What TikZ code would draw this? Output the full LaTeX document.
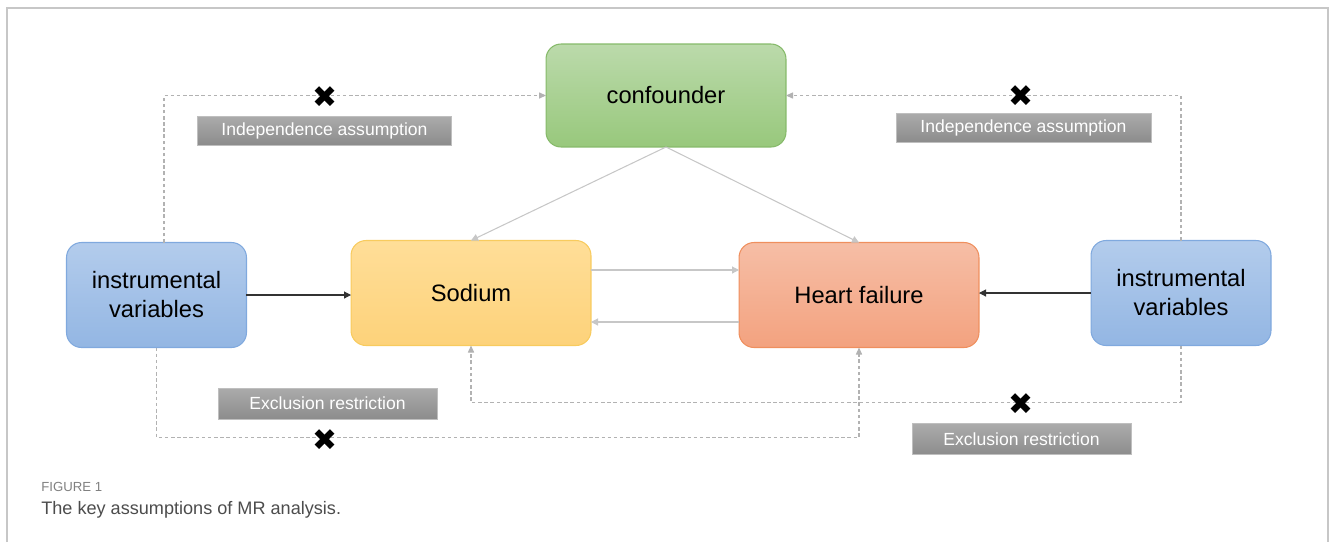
\documentclass[tikz,border=0pt]{standalone}
\usepackage{xcolor}
\usepackage{fontspec}
\setmainfont{Liberation Sans}
\newfontfamily\symfont{DejaVu Sans}
\usepackage{tikz}
\usetikzlibrary{arrows.meta, positioning}
\definecolor{confTop}{HTML}{BBDAAB}
\definecolor{confBot}{HTML}{98C87C}
\definecolor{confLine}{HTML}{86BA6A}
\definecolor{sodTop}{HTML}{FFDE98}
\definecolor{sodBot}{HTML}{FDD27A}
\definecolor{sodLine}{HTML}{F8CB5E}
\definecolor{hfTop}{HTML}{F6BEA6}
\definecolor{hfBot}{HTML}{F3A27F}
\definecolor{hfLine}{HTML}{EF8F5E}
\definecolor{ivTop}{HTML}{B3CCEC}
\definecolor{ivBot}{HTML}{93B6E3}
\definecolor{ivLine}{HTML}{80A9DE}
\definecolor{tagTop}{HTML}{ABABAB}
\definecolor{tagBot}{HTML}{8C8C8C}
\tikzset{
  box/.style={rectangle, draw, rounded corners=0.3cm, minimum height=2.1cm, minimum width=4.8cm, outer sep=0pt, align=center, line width=0.6pt, font=\fontsize{13.5}{16.5}\selectfont},
  ivbox/.style={box, minimum width=3.6cm, top color=ivTop, bottom color=ivBot, draw=ivLine},
  tag/.style={rectangle, draw=black!25, top color=tagTop, bottom color=tagBot, text=white, minimum height=0.58cm, font=\fontsize{10}{12}\selectfont, inner sep=0pt},
  cross/.style={inner sep=0pt, font=\symfont\fontsize{17}{17}\selectfont},
  arrow/.style={-{Triangle[length=4pt, width=4pt]}, line width=0.6pt, black!80},
  thinarrow/.style={-{Triangle[length=4pt, width=4pt]}, line width=0.6pt, black!22},
  dasharrow/.style={-{Triangle[length=4pt, width=3.5pt]}, line width=0.6pt, black!30, dash pattern=on 2pt off 1.5pt},
}

\begin{document}
\begin{tikzpicture}[x=0.02cm, y=-0.02cm]
    \useasboundingbox (0,0) rectangle (1331,542);
    \draw[black!22, line width=0.6pt] (7,542) -- (7,8) -- (1328,8) -- (1328,542);
    % main boxes
    \node[box, top color=confTop, bottom color=confBot, draw=confLine, minimum height=2.06cm] (conf) at (666,95.5) {confounder};
    \node[box, top color=sodTop, bottom color=sodBot, draw=sodLine] (sod) at (471,293) {Sodium};
    \node[box, top color=hfTop, bottom color=hfBot, draw=hfLine] (hf) at (859,295) {Heart failure};
    \node[ivbox] (ivL) at (156.5,295) {instrumental\\variables};
    \node[ivbox] (ivR) at (1181,293) {instrumental\\variables};
    % solid arrows
    \draw[arrow] (ivL.east) -- (ivL.east -| sod.west);
    \draw[arrow] (ivR.west) -- (ivR.west -| hf.east);
    \draw[thinarrow] (conf.south) -- (sod.north);
    \draw[thinarrow] (conf.south) -- (hf.north);
    \draw[thinarrow] ([yshift=0.46cm]sod.east) -- ([yshift=0.46cm]sod.east -| hf.west);
    \draw[thinarrow] ([yshift=-0.54cm]hf.west) -- ([yshift=-0.54cm]hf.west -| sod.east);
    % violated paths
    \draw[dasharrow] ([xshift=0.15cm]ivL.north) |- (conf.west);
    \draw[dasharrow] (ivR.north) |- (conf.east);
    \draw[dasharrow] (ivL.south) -- ++(0,90) -| (hf.south);
    \draw[dasharrow] (ivR.south) -- ++(0,57) -| (sod.south);
    \node[tag, minimum width=5.08cm] (indL) at (324.5,130.5) {Independence assumption};
    \node[tag, minimum width=5.1cm] (indR) at (1023.5,127.5) {Independence assumption};
    \node[tag, minimum width=4.38cm, minimum height=0.62cm] (excL) at (327.5,403.5) {Exclusion restriction};
    \node[tag, minimum width=4.38cm, minimum height=0.62cm] (excR) at (1021.5,439) {Exclusion restriction};
    \node[cross] (xIndL) at (325,97) {✖};
    \node[cross] (xIndR) at (1021,96) {✖};
    \node[cross] (xExcL) at (325,440) {✖};
    \node[cross] (xExcR) at (1021,404) {✖};
    % caption
    \node[anchor=west, inner sep=0pt, text=black!50, font=\fontsize{7.5}{9}\selectfont] (figno) at (41,487) {FIGURE 1};
    \node[anchor=west, inner sep=0pt, text=black!70, font=\fontsize{10.3}{12}\selectfont] (figcap) at (41,510) {The key assumptions of MR analysis.};
  \end{tikzpicture}
\end{document}
